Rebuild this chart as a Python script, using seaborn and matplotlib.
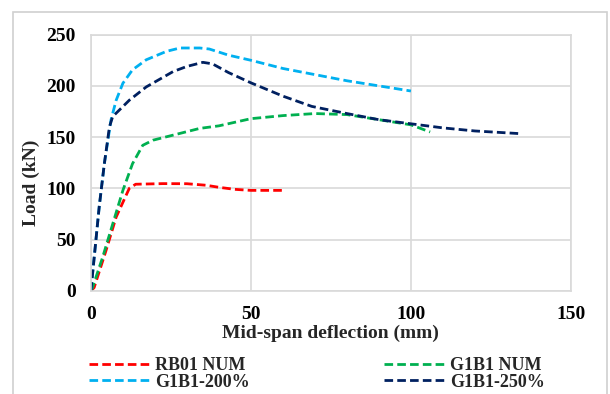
import matplotlib
matplotlib.use("Agg")
import matplotlib.pyplot as plt
import seaborn as sns
import pandas as pd
from matplotlib.patches import Rectangle

# Data
rb01_x = [0, 1, 4.7, 7.9, 12, 14, 22.5, 30, 36, 40, 45, 50, 55, 60]
rb01_y = [0, 3, 39, 72, 100, 104, 104.6, 104.5, 103, 101, 99, 98, 98, 98]

g1b1_x = [0, 0.5, 3.7, 6.8, 10, 13, 16.2, 19.4, 27.8, 34, 40, 50, 60, 70, 80, 90, 100, 106]
g1b1_y = [0, 3, 33, 65, 98, 124, 142, 147, 153.6, 158.5, 161, 168, 171, 173, 172, 167, 162, 155]

g200_x = [0, 2.6, 4.2, 6.3, 7.9, 10, 13, 17.3, 23.6, 27.8, 34, 37, 43, 50, 60, 70, 80, 90, 100]
g200_y = [0, 82, 124, 167, 186, 202.6, 215.7, 225.5, 233.7, 237, 237, 236, 230, 225, 217, 211, 205, 200, 195]

g250_x = [0, 2.6, 4.2, 5.8, 6.8, 12, 17.3, 25.7, 30, 35, 38, 43, 50, 60, 69, 80, 90, 100, 110, 120, 133.5]
g250_y = [0, 82, 124, 160, 170, 186, 199, 214, 219, 223, 221.5, 213, 203, 190, 180, 173, 167, 163, 159, 156, 153.5]

labels = ["RB01 NUM", "G1B1 NUM", "G1B1-200%", "G1B1-250%"]
colors = ["#FF0000", "#00B050", "#00B0F0", "#002060"]
xs = [rb01_x, g1b1_x, g200_x, g250_x]
ys = [rb01_y, g1b1_y, g200_y, g250_y]

x_ticks = [0, 50, 100, 150]
y_ticks = [0, 50, 100, 150, 200, 250]

sns.set_theme(style="whitegrid")
plt.rcParams["font.family"] = ["Liberation Serif", "DejaVu Serif"]
plt.rcParams["font.weight"] = "bold"

fig = plt.figure(figsize=(6.1, 3.94), dpi=100)
ax = fig.add_axes([0.149, 0.262, 0.787, 0.65])

handles = {}
for lab, col, x, y in zip(labels, colors, xs, ys):
    df = pd.DataFrame({"x": x, "y": y})
    sns.lineplot(data=df, x="x", y="y", ax=ax, color=col, sort=False,
                 linewidth=2.0, linestyle=(0, (3.1, 1.5)))
    handles[lab] = ax.lines[-1]

ax.set_xlim(0, 150)
ax.set_ylim(0, 250)
ax.set_xticks(x_ticks)
ax.set_yticks(y_ticks)
ax.grid(True, color="#d9d9d9", linewidth=1.2)
for s in ax.spines.values():
    s.set_color("#d9d9d9")
    s.set_linewidth(1.2)
ax.tick_params(axis="x", labelsize=14, length=0, pad=11, colors="black")
ax.tick_params(axis="y", labelsize=14, length=0, pad=11, colors="black")
for t in ax.get_xticklabels() + ax.get_yticklabels():
    t.set_fontweight("bold")
ax.set_xlabel("Mid-span deflection (mm)", fontsize=14, fontweight="bold")
ax.set_ylabel("Load (kN)", fontsize=14, fontweight="bold")
ax.xaxis.label.set_va("center")
ax.xaxis.set_label_coords(0.5, -0.165)
ax.yaxis.label.set_va("center")
ax.yaxis.set_label_coords(-0.124, 0.42)

order = ["RB01 NUM", "G1B1-200%", "G1B1 NUM", "G1B1-250%"]
leg = ax.legend([handles[k] for k in order], order, loc="center left",
                bbox_to_anchor=(89 / 610, 1 - 374 / 394), bbox_transform=fig.transFigure,
                ncol=2, frameon=False, fontsize=13, handlelength=3.4, handletextpad=0.28,
                columnspacing=7.4, labelspacing=-0.05, borderpad=0, borderaxespad=0)
for t in leg.get_texts():
    t.set_fontweight("bold")

fig.patches.append(Rectangle((13 / 610, -0.05), (607 - 13) / 610, 1.05 - 12 / 394,
                             transform=fig.transFigure, fill=False,
                             edgecolor="#d0d0d0", linewidth=1.2))

fig.savefig("out.png", dpi=100)
